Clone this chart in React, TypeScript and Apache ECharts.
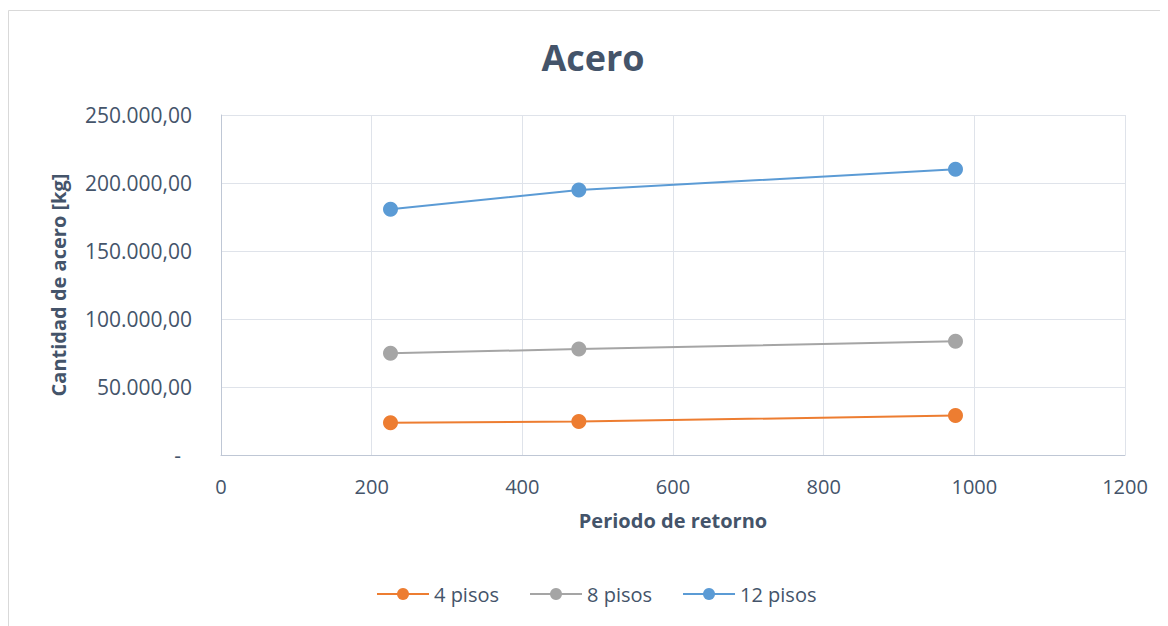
import React, { useEffect, useRef } from "react";
import * as echarts from "echarts";

const title = "Acero";
const xAxisName = "Periodo de retorno";
const yAxisName = "Cantidad de acero [kg]";
const periods = [225, 475, 975];
const seriesNames = ["4 pisos", "8 pisos", "12 pisos"];
const pisos4 = [23800, 24600, 29000];
const pisos8 = [74800, 77900, 83700];
const pisos12 = [180700, 194900, 210100];
const seriesColors = ["#ED7D31", "#A5A5A5", "#5B9BD5"];

const textColor = "#44546A";
const font = "'Open Sans', 'Noto Sans', sans-serif";

function fmtY(v: number): string {
  if (v === 0) return "{d|-}";
  const s = Math.round(v).toString().replace(/\B(?=(\d{3})+(?!\d))/g, ".");
  return s + ",00";
}

export default function App() {
  const ref = useRef<HTMLDivElement>(null);
  useEffect(() => {
    if (!ref.current) return;
    const chart = echarts.init(ref.current, null, { renderer: "svg" });
    const values = [pisos4, pisos8, pisos12];
    chart.setOption({
      animation: false,
      backgroundColor: "#ffffff",
      graphic: [
        {
          type: "rect",
          shape: { x: 0.5, y: 2.5, width: 1180, height: 700 },
          style: { fill: "none", stroke: "#D9D9D9", lineWidth: 1 },
          silent: true,
        },
        {
          type: "text",
          x: 585,
          y: 49,
          style: {
            text: title,
            textAlign: "center",
            textVerticalAlign: "middle",
            font: `bold 36px ${font}`,
            fill: textColor,
          },
        },
      ],
      legend: {
        left: 363,
        top: 571,
        itemWidth: 52,
        itemHeight: 15,
        itemGap: 30,
        textStyle: { color: textColor, fontSize: 20, fontFamily: font },
        data: seriesNames,
      },
      grid: { left: 213, right: 43, top: 107, bottom: 171, containLabel: false },
      xAxis: {
        type: "value",
        min: 0,
        max: 1200,
        interval: 200,
        name: xAxisName,
        nameLocation: "middle",
        nameGap: 55,
        nameTextStyle: { color: textColor, fontSize: 20, fontWeight: "bold", fontFamily: font },
        axisLine: { show: true, lineStyle: { color: "#BFC7D5", width: 1 } },
        axisTick: { show: false },
        axisLabel: {
          color: textColor,
          fontSize: 20,
          fontFamily: font,
          margin: 21,
          formatter: (v: number) => String(v),
        },
        splitLine: { show: true, lineStyle: { color: "#DFE3EA", width: 1 } },
      },
      yAxis: {
        type: "value",
        min: 0,
        max: 250000,
        interval: 50000,
        name: yAxisName,
        nameLocation: "middle",
        nameGap: 153,
        nameRotate: 90,
        nameTextStyle: { color: textColor, fontSize: 20, fontWeight: "bold", fontFamily: font },
        axisLine: { show: true, lineStyle: { color: "#BFC7D5", width: 1 } },
        axisTick: { show: false },
        axisLabel: {
          color: textColor,
          fontSize: 21,
          fontFamily: font,
          margin: 29,
          formatter: fmtY,
          rich: { d: { color: textColor, fontSize: 21, fontFamily: font, padding: [0, 11, 0, 0] } },
        },
        splitLine: { show: true, lineStyle: { color: "#DFE3EA", width: 1 } },
      },
      series: seriesNames.map((name, i) => ({
        name,
        type: "line",
        data: periods.map((p, j) => [p, values[i][j]]),
        symbol: "circle",
        symbolSize: 15,
        lineStyle: { color: seriesColors[i], width: 2 },
        itemStyle: { color: seriesColors[i] },
      })),
    });
    return () => chart.dispose();
  }, []);
  return <div ref={ref} style={{ width: 1160, height: 618 }} />;
}
